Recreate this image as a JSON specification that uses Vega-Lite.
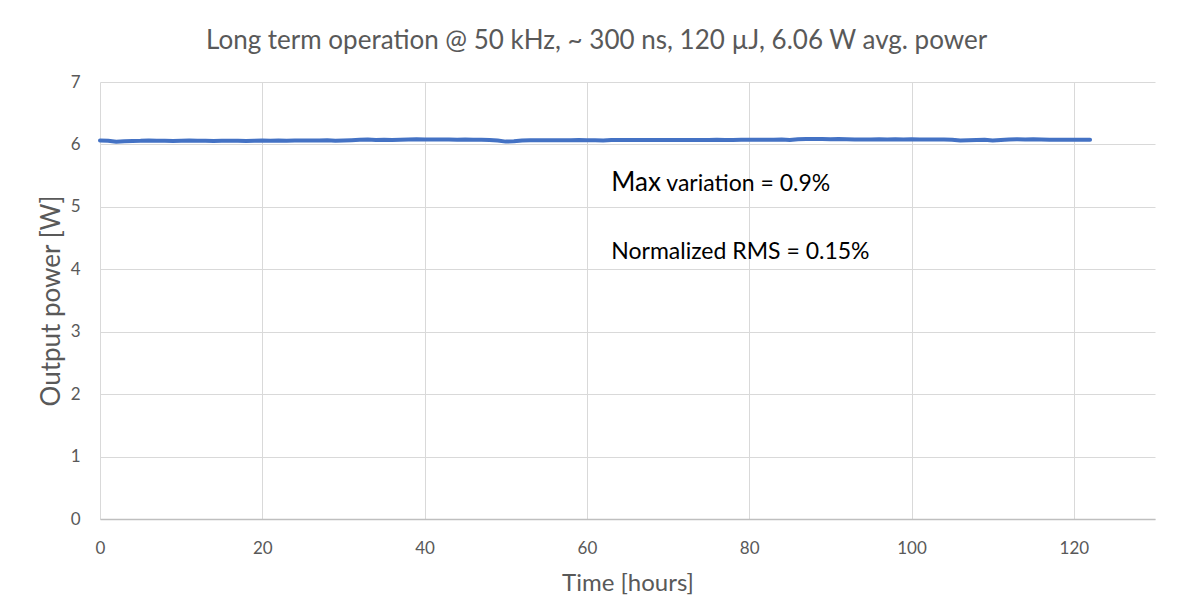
{
  "$schema": "https://vega.github.io/schema/vega-lite/v6.json",
  "autosize": {"type": "none"},
  "width": 1055,
  "height": 437,
  "padding": {"left": 100, "top": 82, "right": 35, "bottom": 93},
  "background": "white",
  "config": {
    "view": {"stroke": null},
    "font": "Lato"
  },
  "title": {
    "text": "Long term operation @ 50 kHz, ~ 300 ns, 120 µJ, 6.06 W avg. power",
    "fontSize": 26,
    "fontWeight": "normal",
    "color": "#595959",
    "font": "Lato",
    "anchor": "middle",
    "frame": "bounds",
    "offset": 19
  },
  "datasets": {
    "power": [
      {"t": 0, "p": 6.062}, {"t": 1, "p": 6.058}, {"t": 2, "p": 6.043}, {"t": 3, "p": 6.052}, {"t": 4, "p": 6.055},
      {"t": 5, "p": 6.057}, {"t": 6, "p": 6.062}, {"t": 7, "p": 6.058}, {"t": 8, "p": 6.060}, {"t": 9, "p": 6.056},
      {"t": 10, "p": 6.058}, {"t": 11, "p": 6.061}, {"t": 12, "p": 6.057}, {"t": 13, "p": 6.059}, {"t": 14, "p": 6.056},
      {"t": 15, "p": 6.058}, {"t": 16, "p": 6.060}, {"t": 17, "p": 6.057}, {"t": 18, "p": 6.055}, {"t": 19, "p": 6.059},
      {"t": 20, "p": 6.061}, {"t": 21, "p": 6.058}, {"t": 22, "p": 6.063}, {"t": 23, "p": 6.060}, {"t": 24, "p": 6.062},
      {"t": 25, "p": 6.061}, {"t": 26, "p": 6.064}, {"t": 27, "p": 6.062}, {"t": 28, "p": 6.065}, {"t": 29, "p": 6.058},
      {"t": 30, "p": 6.064}, {"t": 31, "p": 6.068}, {"t": 32, "p": 6.074}, {"t": 33, "p": 6.078}, {"t": 34, "p": 6.072},
      {"t": 35, "p": 6.076}, {"t": 36, "p": 6.070}, {"t": 37, "p": 6.075}, {"t": 38, "p": 6.079}, {"t": 39, "p": 6.082},
      {"t": 40, "p": 6.079}, {"t": 41, "p": 6.080}, {"t": 42, "p": 6.077}, {"t": 43, "p": 6.079}, {"t": 44, "p": 6.076},
      {"t": 45, "p": 6.078}, {"t": 46, "p": 6.075}, {"t": 47, "p": 6.074}, {"t": 48, "p": 6.072}, {"t": 49, "p": 6.062},
      {"t": 50, "p": 6.045}, {"t": 51, "p": 6.052}, {"t": 52, "p": 6.064}, {"t": 53, "p": 6.066}, {"t": 54, "p": 6.065},
      {"t": 55, "p": 6.067}, {"t": 56, "p": 6.066}, {"t": 57, "p": 6.068}, {"t": 58, "p": 6.066}, {"t": 59, "p": 6.069},
      {"t": 60, "p": 6.068}, {"t": 61, "p": 6.066}, {"t": 62, "p": 6.064}, {"t": 63, "p": 6.070}, {"t": 64, "p": 6.072},
      {"t": 65, "p": 6.070}, {"t": 66, "p": 6.071}, {"t": 67, "p": 6.069}, {"t": 68, "p": 6.072}, {"t": 69, "p": 6.070},
      {"t": 70, "p": 6.071}, {"t": 71, "p": 6.069}, {"t": 72, "p": 6.070}, {"t": 73, "p": 6.072}, {"t": 74, "p": 6.070},
      {"t": 75, "p": 6.071}, {"t": 76, "p": 6.073}, {"t": 77, "p": 6.071}, {"t": 78, "p": 6.072}, {"t": 79, "p": 6.074},
      {"t": 80, "p": 6.073}, {"t": 81, "p": 6.075}, {"t": 82, "p": 6.076}, {"t": 83, "p": 6.074}, {"t": 84, "p": 6.077},
      {"t": 85, "p": 6.072}, {"t": 86, "p": 6.084}, {"t": 87, "p": 6.088}, {"t": 88, "p": 6.086}, {"t": 89, "p": 6.087},
      {"t": 90, "p": 6.083}, {"t": 91, "p": 6.085}, {"t": 92, "p": 6.082}, {"t": 93, "p": 6.078}, {"t": 94, "p": 6.080},
      {"t": 95, "p": 6.079}, {"t": 96, "p": 6.081}, {"t": 97, "p": 6.080}, {"t": 98, "p": 6.082}, {"t": 99, "p": 6.080},
      {"t": 100, "p": 6.081}, {"t": 101, "p": 6.079}, {"t": 102, "p": 6.077}, {"t": 103, "p": 6.080}, {"t": 104, "p": 6.078},
      {"t": 105, "p": 6.074}, {"t": 106, "p": 6.062}, {"t": 107, "p": 6.066}, {"t": 108, "p": 6.070}, {"t": 109, "p": 6.074},
      {"t": 110, "p": 6.063}, {"t": 111, "p": 6.072}, {"t": 112, "p": 6.080}, {"t": 113, "p": 6.082}, {"t": 114, "p": 6.079},
      {"t": 115, "p": 6.081}, {"t": 116, "p": 6.077}, {"t": 117, "p": 6.074}, {"t": 118, "p": 6.076}, {"t": 119, "p": 6.073},
      {"t": 120, "p": 6.075}, {"t": 121, "p": 6.074}, {"t": 122, "p": 6.076}
    ],
    "notes": [
      {"x": 63, "y": 5.38, "part": "big", "label": "Max"},
      {"x": 63, "y": 5.38, "part": "rest", "label": "variation = 0.9%"},
      {"x": 63, "y": 4.28, "part": "line2", "label": "Normalized RMS = 0.15%"}
    ]
  },
  "layer": [
    {
      "data": {"name": "power"},
      "mark": {"type": "line", "color": "#4472C4", "strokeWidth": 4, "strokeCap": "round", "strokeJoin": "round"},
      "encoding": {
        "x": {
          "field": "t", "type": "quantitative",
          "scale": {"domain": [0, 130], "nice": false, "zero": true},
          "axis": {
            "title": "Time [hours]",
            "values": [0, 20, 40, 60, 80, 100, 120],
            "grid": true, "gridColor": "#d9d9d9", "gridWidth": 1,
            "domain": true, "domainColor": "#bfbfbf", "domainWidth": 1.5,
            "ticks": false, "labelFlush": false,
            "labelFontSize": 17, "labelColor": "#595959", "labelPadding": 21, "labelFont": "Lato",
            "titleFontSize": 24, "titleColor": "#595959", "titleFontWeight": "normal", "titlePadding": 15, "titleFont": "Lato"
          }
        },
        "y": {
          "field": "p", "type": "quantitative",
          "scale": {"domain": [0, 7], "nice": false},
          "axis": {
            "title": "Output power [W]",
            "values": [0, 1, 2, 3, 4, 5, 6, 7],
            "format": "d",
            "grid": true, "gridColor": "#d9d9d9", "gridWidth": 1,
            "domain": false, "ticks": false, "labelFlush": false,
            "labelFontSize": 17, "labelColor": "#595959", "labelPadding": 20, "labelFont": "Lato",
            "titleFontSize": 26, "titleColor": "#595959", "titleFontWeight": "normal", "titlePadding": 6, "titleFont": "Lato"
          }
        }
      }
    },
    {
      "data": {"name": "notes"},
      "transform": [{"filter": "datum.part == 'big'"}],
      "mark": {"type": "text", "align": "left", "baseline": "middle", "fontSize": 26, "color": "#000000", "font": "Lato"},
      "encoding": {
        "x": {"field": "x", "type": "quantitative"},
        "y": {"field": "y", "type": "quantitative"},
        "text": {"field": "label"}
      }
    },
    {
      "data": {"name": "notes"},
      "transform": [{"filter": "datum.part == 'rest'"}],
      "mark": {"type": "text", "align": "left", "baseline": "middle", "fontSize": 23, "color": "#000000", "font": "Lato", "dx": 55, "dy": 1},
      "encoding": {
        "x": {"field": "x", "type": "quantitative"},
        "y": {"field": "y", "type": "quantitative"},
        "text": {"field": "label"}
      }
    },
    {
      "data": {"name": "notes"},
      "transform": [{"filter": "datum.part == 'line2'"}],
      "mark": {"type": "text", "align": "left", "baseline": "middle", "fontSize": 23, "color": "#000000", "font": "Lato"},
      "encoding": {
        "x": {"field": "x", "type": "quantitative"},
        "y": {"field": "y", "type": "quantitative"},
        "text": {"field": "label"}
      }
    }
  ]
}
